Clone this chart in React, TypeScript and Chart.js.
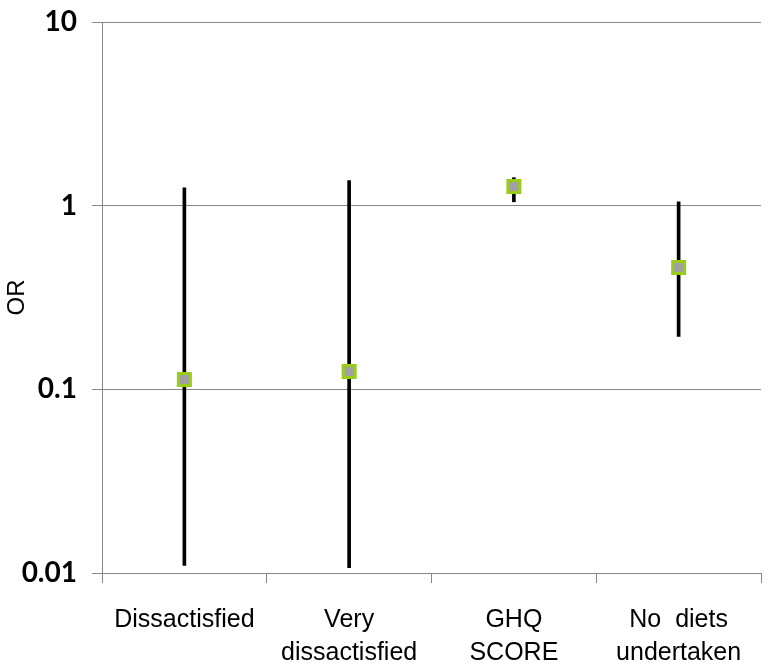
import React, { useEffect, useRef } from "react";
import { Chart, registerables } from "chart.js";

Chart.register(...registerables);

const categories: string[][] = [["Dissactisfied"], ["Very", "dissactisfied"], ["GHQ", "SCORE"], ["No  diets", "undertaken"]];
const orValues = [0.113, 0.125, 1.27, 0.46];
const ciLower = [0.011, 0.0107, 1.05, 0.194];
const ciUpper = [1.25, 1.37, 1.42, 1.05];
const yTicks = [0.01, 0.1, 1, 10];

export default function App() {
  const ref = useRef<HTMLCanvasElement>(null);
  useEffect(() => {
    if (!ref.current) return;
    const chart = new Chart(ref.current, {
      type: "bar",
      data: {
        labels: categories as any,
        datasets: [
          {
            type: "bar",
            data: ciLower.map((l, i) => [l, ciUpper[i]]) as any,
            backgroundColor: "#000000",
            borderWidth: 0,
            barThickness: 3,
            order: 1,
          },
          {
            type: "line",
            data: orValues,
            showLine: false,
            pointStyle: "rect",
            pointRadius: 8.5,
            pointBackgroundColor: "#a0a0a0",
            pointBorderColor: "#9acd1a",
            pointBorderWidth: 3,
            order: 0,
          } as any,
        ],
      },
      options: {
        animation: false,
        responsive: false,
        maintainAspectRatio: false,
        layout: { padding: { top: 22, right: 12, left: 0, bottom: 0 } },
        plugins: { legend: { display: false }, tooltip: { enabled: false } },
        scales: {
          x: {
            offset: true,
            grid: { offset: true, drawOnChartArea: false, color: "#888888", tickLength: 10 },
            border: { color: "#888888" },
            ticks: {
              color: "#000000",
              font: { family: "'Liberation Sans', Arial, sans-serif", size: 25, lineHeight: 1.3 },
              padding: 21,
              maxRotation: 0,
              autoSkip: false,
            },
            afterFit: (s: any) => { s.height = 97; },
          },
          y: {
            type: "logarithmic",
            min: 0.01,
            max: 10,
            afterBuildTicks: (s: any) => { s.ticks = yTicks.map((v) => ({ value: v })); },
            grid: { color: "#888888", tickLength: 10 },
            border: { color: "#888888" },
            ticks: {
              color: "#000000",
              font: { family: "Lato, 'DejaVu Sans', sans-serif", size: 28, weight: "bold" },
              padding: 15,
              callback: (v: any) => String(v),
            },
            title: {
              display: true,
              text: "OR",
              color: "#000000",
              font: { family: "'Liberation Sans', Arial, sans-serif", size: 24 },
              padding: { top: 3, bottom: 0 },
            },
            afterFit: (s: any) => { s.width = 102; s.paddingTop = 0; s.paddingBottom = 0; },
          },
        },
      },
    });
    return () => chart.destroy();
  }, []);
  return (
    <div style={{ position: "fixed", left: 0, top: 0, width: 773, height: 670, background: "#fff" }}>
      <canvas ref={ref} width={773} height={670} style={{ width: 773, height: 670 }} />
    </div>
  );
}
